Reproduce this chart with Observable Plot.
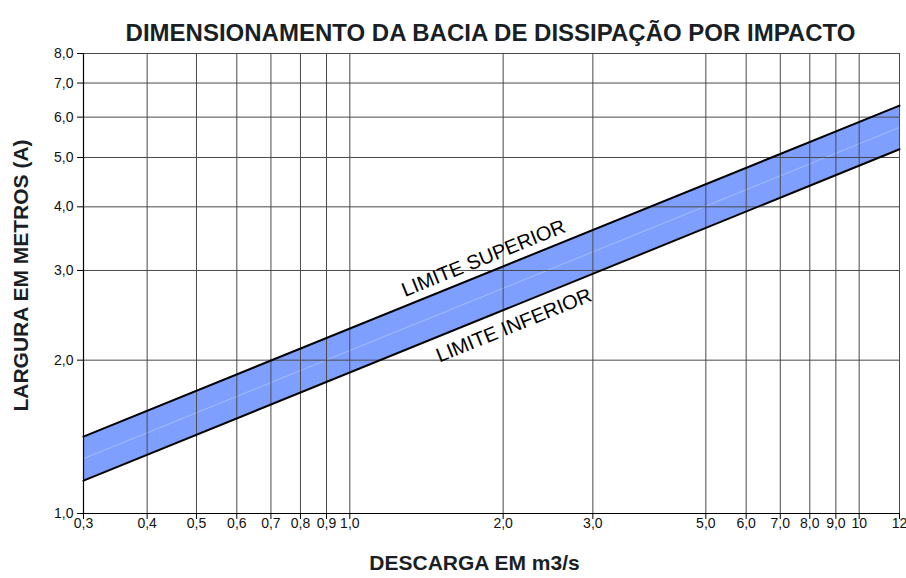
<!DOCTYPE html>
<html>
<head>
<meta charset="utf-8">
<script src="https://cdn.jsdelivr.net/npm/d3@7"></script>
<script src="https://cdn.jsdelivr.net/npm/@observablehq/plot@0.6"></script>
<style>
  body { margin: 0; background: #fff; }
  svg { font-family: "Liberation Sans", Arial, sans-serif; }
</style>
</head>
<body>
<div id="chart"></div>
<script>
const discharge = [0.3, 12];
const lowerLimit = [1.16, 5.19];
const upperLimit = [1.416, 6.32];

const xTicks = [0.3, 0.4, 0.5, 0.6, 0.7, 0.8, 0.9, 1, 2, 3, 5, 6, 7, 8, 9, 10, 12];
const xTickLabels = ["0,3","0,4","0,5","0,6","0,7","0,8","0,9","1,0","2,0","3,0","5,0","6,0","7,0","8,0","9,0","10","12"];
const yTicks = [1, 2, 3, 4, 5, 6, 7, 8];
const yTickLabels = ["1,0","2,0","3,0","4,0","5,0","6,0","7,0","8,0"];

const labels = [
  {x: 1.83, y: 3.17, text: "LIMITE SUPERIOR"},
  {x: 2.1, y: 2.34, text: "LIMITE INFERIOR"}
];

const band = discharge.map((d, i) => ({x: d, lo: lowerLimit[i], hi: upperLimit[i]}));
const xt = xTicks.map((d, i) => ({v: d, t: xTickLabels[i]}));
const yt = yTicks.map((d, i) => ({v: d, t: yTickLabels[i]}));

const chart = Plot.plot({
  width: 906,
  height: 578,
  marginLeft: 83,
  marginRight: 7,
  marginTop: 53,
  marginBottom: 65,
  style: {fontFamily: "Liberation Sans, Arial, sans-serif", fontSize: "14px", color: "#000", background: "#fff", overflow: "visible"},
  x: {type: "log", domain: [0.3, 12], axis: null},
  y: {type: "log", domain: [1, 8], axis: null},
  marks: [
    Plot.areaY(band, {x: "x", y1: "lo", y2: "hi", fill: "#7f9fff"}),
    Plot.line(band, {x: "x", y: d => Math.sqrt(d.lo * d.hi), stroke: "#fff", strokeOpacity: 0.3, strokeWidth: 1}),
    Plot.ruleX(xTicks, {stroke: "#4a4a4a", strokeWidth: 1}),
    Plot.ruleY(yTicks, {stroke: "#4a4a4a", strokeWidth: 1}),
    Plot.ruleX([0.3], {stroke: "#000", strokeWidth: 1.2}),
    Plot.ruleY([1], {stroke: "#000", strokeWidth: 1.2}),
    Plot.line(band, {x: "x", y: "hi", stroke: "#000", strokeWidth: 2}),
    Plot.line(band, {x: "x", y: "lo", stroke: "#000", strokeWidth: 2}),
    Plot.axisX({ticks: xTicks, tickSize: 6, tickFormat: () => "", label: null, stroke: "#000"}),
    Plot.axisY({ticks: yTicks, tickSize: 6, tickFormat: () => "", label: null, stroke: "#000"}),
    Plot.text(xt, {x: "v", text: "t", frameAnchor: "bottom", dy: 14, fontSize: 14, fill: "#111"}),
    Plot.text(yt, {y: "v", text: "t", frameAnchor: "left", dx: -10, textAnchor: "end", fontSize: 14, fill: "#111"}),
    Plot.text(labels, {x: "x", y: "y", text: "text", rotate: -22, fontSize: 20, fill: "#000"}),
    Plot.text(["DIMENSIONAMENTO DA BACIA DE DISSIPAÇÃO POR IMPACTO"], {frameAnchor: "top", dx: -1, dy: -30, fontSize: 24, fontWeight: "bold", fill: "#1a1f26"}),
    Plot.text(["DESCARGA EM m3/s"], {frameAnchor: "bottom", dx: -17, dy: 56, fontSize: 21, fontWeight: "bold", fill: "#1a1f26"}),
    Plot.text(["LARGURA EM METROS (A)"], {frameAnchor: "left", textAnchor: "middle", dx: -62, dy: -8, rotate: -90, fontSize: 21, fontWeight: "bold", fill: "#1a1f26"})
  ]
});
document.getElementById("chart").appendChild(chart);
</script>
</body>
</html>
